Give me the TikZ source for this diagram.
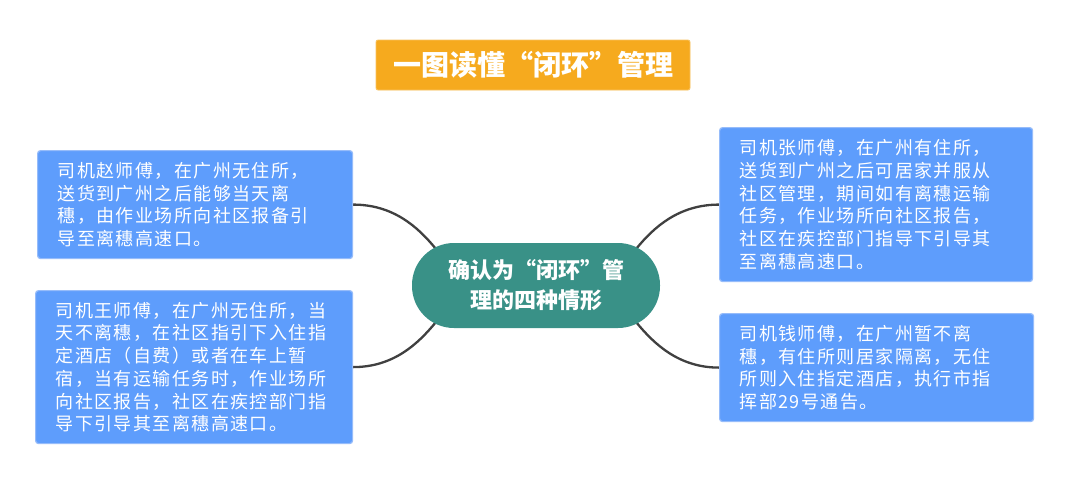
\documentclass[tikz,border=0pt]{standalone}
\usepackage{fontspec}
\newfontfamily\cjk{Noto Sans CJK SC}[LetterSpace=8]
\newfontfamily\cjkb{Noto Sans CJK SC}
\usetikzlibrary{calc,backgrounds}
\definecolor{titleorange}{RGB}{246,170,30}
\definecolor{boxblue}{RGB}{94,157,252}
\definecolor{boxedge}{RGB}{150,188,250}
\definecolor{pillteal}{RGB}{57,145,135}
\definecolor{conngray}{RGB}{64,64,64}
\tikzset{
  infobox/.style={draw=boxedge, line width=1.2pt, fill=boxblue, rounded corners=3pt,
    text=white, align=left, inner xsep=20pt, inner ysep=0pt, anchor=north west,
    font={\cjk\fontsize{18}{22.7}\selectfont}},
  titlebox/.style={fill=titleorange, draw=titleorange!70!white, line width=0.8pt, rounded corners=2pt,
    text=white, inner sep=0pt, font={\cjkb\bfseries\fontsize{28}{30}\selectfont}},
  pill/.style={fill=pillteal, text=white, align=center, inner sep=0pt,
    font={\cjkb\bfseries\fontsize{22}{30}\selectfont}},
  conn/.style={draw=conngray, line width=2.3pt}
}
\begin{document}
\begin{tikzpicture}[x=1pt,y=-1pt]
\useasboundingbox (0,0) rectangle (1080,485);

\node[titlebox, minimum width=314pt, minimum height=50pt] (t) at (533,65) {一图读懂“闭环”管理};

\node[pill, minimum width=248pt, minimum height=85pt, rounded corners=42pt] (c) at (536,285.5)
  {确认为“闭环”管\\理的四种情形};

\node[infobox, minimum width=315pt, minimum height=108pt, text width=275pt] (lt) at (37,150)
  {司机赵师傅，在广州无住所，\\送货到广州之后能够当天离\\穗，由作业场所向社区报备引\\导至离穗高速口。};

\node[infobox, minimum width=317pt, minimum height=153pt, text width=277pt] (lb) at (35,290)
  {司机王师傅，在广州无住所，当\\天不离穗，在社区指引下入住指\\定酒店（自费）或者在车上暂\\宿，当有运输任务时，作业场所\\向社区报告，社区在疾控部门指\\导下引导其至离穗高速口。};

\node[infobox, minimum width=313pt, minimum height=154pt, text width=273pt] (rt) at (719,127)
  {司机张师傅，在广州有住所，\\送货到广州之后可居家并服从\\社区管理，期间如有离穗运输\\任务，作业场所向社区报告，\\社区在疾控部门指导下引导其\\至离穗高速口。};

\node[infobox, minimum width=314pt, minimum height=108pt, text width=274pt] (rb) at (719,313)
  {司机钱师傅，在广州暂不离\\穗，有住所则居家隔离，无住\\所则入住指定酒店，执行市指\\挥部29号通告。};

\begin{scope}[on background layer]
\fill[white] (0,0) rectangle (1080,485);
\draw[conn] (lt.east) .. controls +(40,0) and +(-18,-22) .. ($(c.north west)+(24,6)$);
\draw[conn] ($(c.south west)+(24,-6)$) .. controls +(-18,22) and +(40,0) .. (lb.east);
\draw[conn] (rt.west) .. controls +(-40,0) and +(18,-22) .. ($(c.north east)+(-24,6)$);
\draw[conn] ($(c.south east)+(-24,-6)$) .. controls +(18,22) and +(-40,0) .. (rb.west);
\end{scope}
\end{tikzpicture}
\end{document}
